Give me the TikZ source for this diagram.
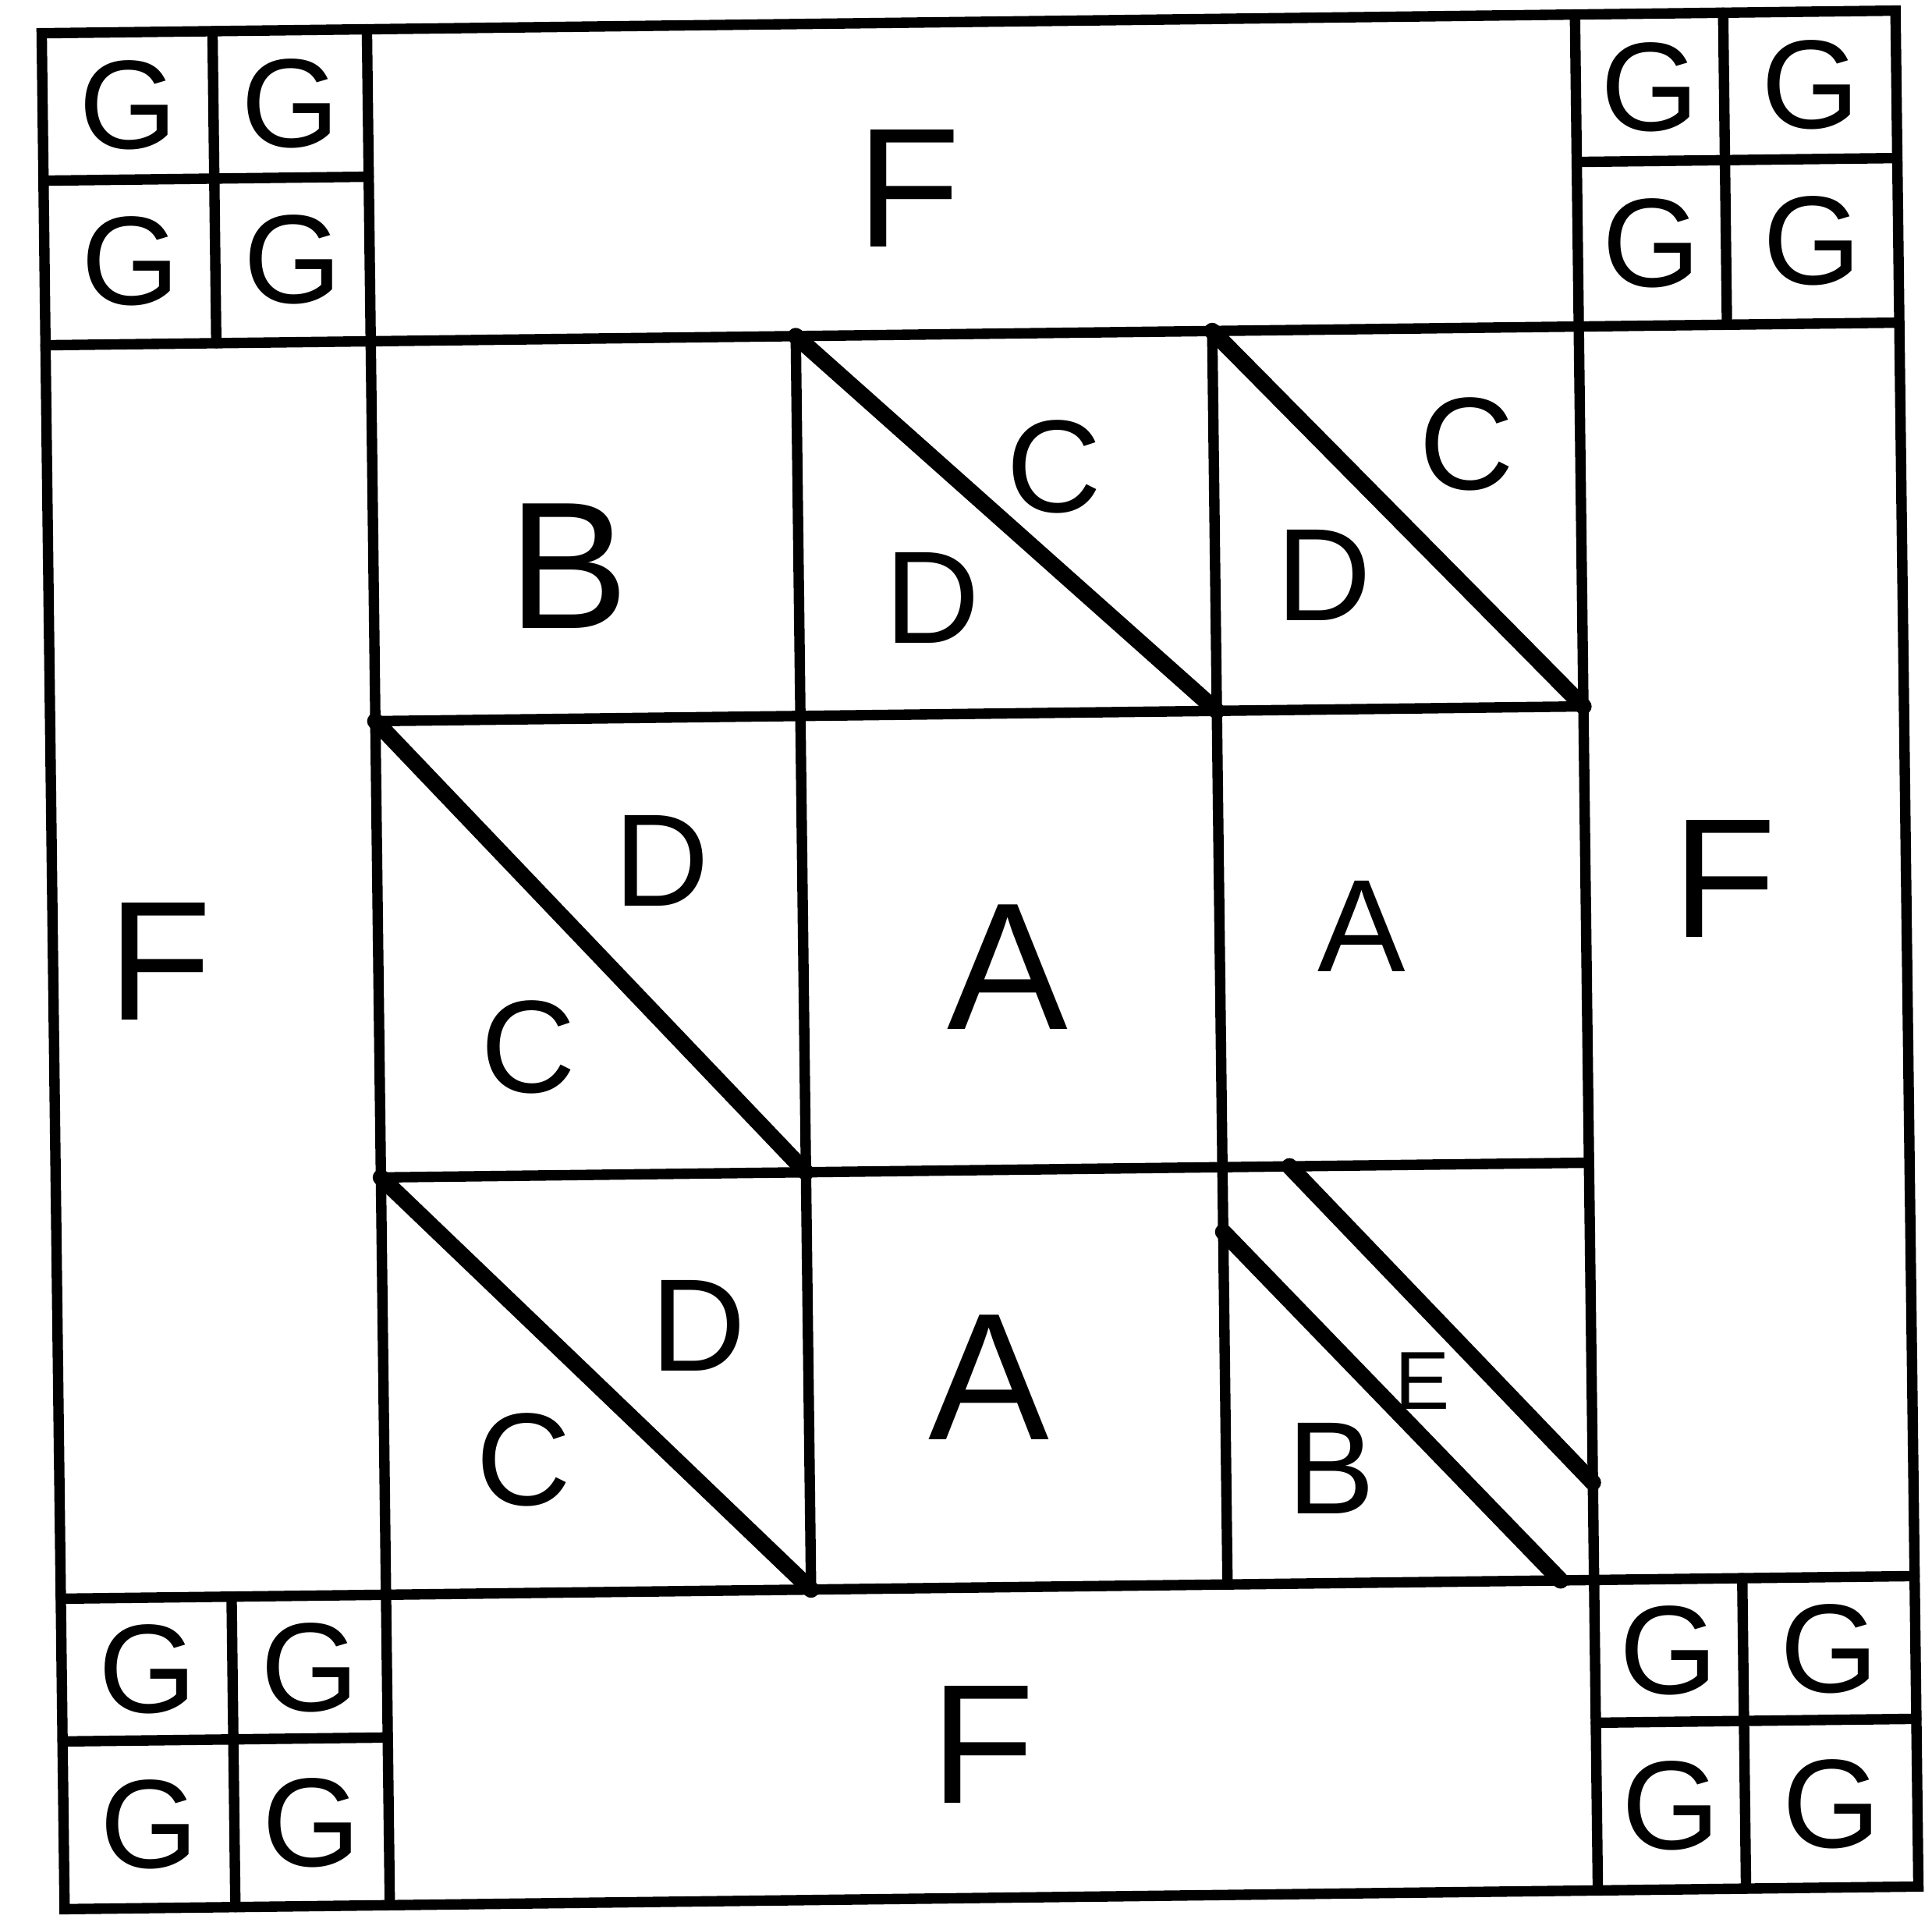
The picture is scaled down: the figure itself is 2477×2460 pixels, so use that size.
\documentclass[tikz,border=0pt]{standalone}
\usepackage{fontspec}
\setmainfont{Liberation Sans}
\usetikzlibrary{positioning}

\begin{document}
\begin{tikzpicture}[x=0.01cm, y=-0.01cm,
  grid/.style={line width=3.8pt, line cap=round},
  seam/.style={line width=6pt, line cap=round},
  lettbig/.style={font=\fontsize{66}{66}\selectfont},
  lettF/.style={font=\fontsize{62}{62}\selectfont},
  lettmid/.style={font=\fontsize{48}{48}\selectfont},
  lettG/.style={font=\fontsize{46}{46}\selectfont},
  lettE/.style={font=\fontsize{30}{30}\selectfont}]
\useasboundingbox (0,0) rectangle (2477,2460);
\fill[white] (0,0) rectangle (2477,2460);
% x, y in pixels of the sheet (y grows downwards)
\def\xo{68}  \def\xg{287} \def\xa{485} \def\xb{1030}
\def\xc{1564} \def\xd{2034} \def\xh{2224} \def\xe{2445}
\def\yo{28}  \def\yg{217} \def\ya{428} \def\yb{915}
\def\yc{1500} \def\yd{2035} \def\yh{2218} \def\ye{2433}
\begin{scope}[rotate around={0.7:(1256,1230)}]
% outer frame and border seams
\draw[grid] (\xo,\yo) rectangle (\xe,\ye);
\draw[grid] (\xo,\ya) -- (\xe,\ya);
\draw[grid] (\xo,\yd) -- (\xe,\yd);
\draw[grid] (\xa,\yo) -- (\xa,\ye);
\draw[grid] (\xd,\yo) -- (\xd,\ye);
% centre 3x3
\draw[grid] (\xb,\ya) -- (\xb,\yd);
\draw[grid] (\xc,\ya) -- (\xc,\yd);
\draw[grid] (\xa,\yb) -- (\xd,\yb);
\draw[grid] (\xa,\yc) -- (\xd,\yc);
% four-patch corners
\foreach \gx/\ga/\gb in {\xg/\xo/\xa, \xh/\xd/\xe}
  \foreach \gy/\gc/\gd in {\yg/\yo/\ya, \yh/\yd/\ye}{
    \draw[grid] (\gx,\gc) -- (\gx,\gd);
    \draw[grid] (\ga,\gy) -- (\gb,\gy);
  }
% half-square triangles
\draw[seam] (\xb,\ya) -- (\xc,\yb);
\draw[seam] (\xc,\ya) -- (\xd,\yb);
\draw[seam] (\xa,\yb) -- (\xb,\yc);
\draw[seam] (\xa,\yc) -- (\xb,\yd);
% stripe E in the last square
\draw[seam] (\xc,{\yc+83}) -- ({\xd-43},\yd);
\draw[seam] ({\xc+86},\yc) -- (\xd,{\yd-125});
% labels
\node[lettbig] (b1) at (735,719) {B};
\node[lettmid] (c1) at (1359,600) {C};
\node[lettmid] (d1) at (1201,766) {D};
\node[lettmid] (c2) at (1888,577) {C};
\node[lettmid] (d2) at (1703,743) {D};
\node[lettmid] (d3) at (850,1098) {D};
\node[lettmid] (c3) at (676,1335) {C};
\node[lettbig] (a1) at (1292,1240) {A};
\node[lettmid] (a2) at (1746,1193) {A};
\node[lettmid] (d4) at (890,1695) {D};
\node[lettmid] (c4) at (664,1864) {C};
\node[lettbig] (a3) at (1261,1766) {A};
\node[lettE] (e1) at (1817,1777) {E};
\node[lettmid] (b2) at (1699,1888) {B};
\node[lettF] (ftop) at (1177,240) {F};
\node[lettF] (fleft) at (205,1220) {F};
\node[lettF] (fright) at (2212,1138) {F};
\node[lettF] (fbot) at (1248,2236) {F};
\foreach \gx [count=\i] in {178,386,2129,2335}
  \foreach \gy [count=\j] in {122,322,2127,2326}
    \node[lettG] (g\i\j) at (\gx,\gy) {G};
\end{scope}
\end{tikzpicture}
\end{document}
